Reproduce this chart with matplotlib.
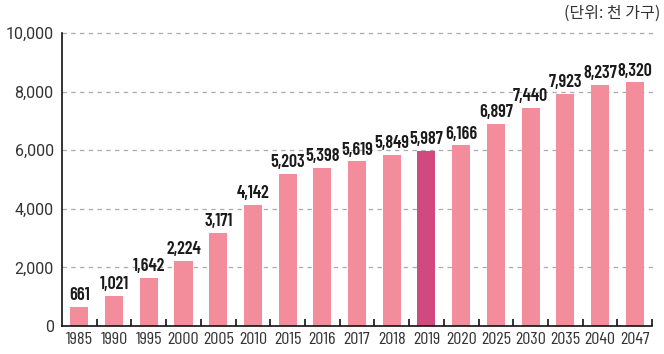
import matplotlib
matplotlib.use("Agg")
import matplotlib.pyplot as plt
import numpy as np

years = ["1985", "1990", "1995", "2000", "2005", "2010", "2015", "2016", "2017",
         "2018", "2019", "2020", "2025", "2030", "2035", "2040", "2047"]
households = [661, 1021, 1642, 2224, 3171, 4142, 5203, 5398, 5619,
              5849, 5987, 6166, 6897, 7440, 7923, 8237, 8320]
highlight_year = "2019"
yticks = [0, 2000, 4000, 6000, 8000, 10000]

plt.rcParams['font.family'] = ['Roboto', 'DejaVu Sans', 'Noto Sans CJK KR']
cond = ["Barlow Condensed", "DejaVu Sans"]

pink = "#f48d9b"
magenta = "#d14a7f"

fig = plt.figure(figsize=(6.64, 3.54), dpi=100)
ax = fig.add_axes([0.0934, 0.0791, 0.8886, 0.8277])

x = np.arange(len(years))
colors = [magenta if y == highlight_year else pink for y in years]
ax.bar(x, households, width=0.52, color=colors, zorder=2)

for xi, v in zip(x, households):
    ax.text(xi, v + 90, f"{v:,}", ha="center", va="bottom", fontsize=13,
            fontweight="semibold", color="#1a1a1a", family=cond, zorder=3)

ax.set_xlim(-0.5, len(years) - 0.5)
ax.set_ylim(0, 10000)
ax.set_yticks(yticks)
ax.set_yticklabels([f"{t:,}" for t in yticks], fontsize=11.5, color="#333333")
ax.tick_params(axis="y", length=0, pad=6)

for t in yticks[1:]:
    ax.plot([-0.5, len(years) - 0.45], [t, t], ls=(0, (3.5, 3.5)), color="#aaaaaa",
            lw=0.9, zorder=1, clip_on=False)

ax.set_xticks(x)
ax.set_xticklabels(years, fontsize=13, color="#333333", family=cond)
ax.tick_params(axis="x", length=0, pad=4)
ax.set_xticks(np.arange(0.5, len(years) - 0.4, 1.0), minor=True)
ax.tick_params(axis="x", which="minor", direction="in", length=5, width=1.2, color="#111111")

for side in ["top", "right"]:
    ax.spines[side].set_visible(False)
ax.spines["left"].set_color("#111111")
ax.spines["bottom"].set_color("#111111")
ax.spines["left"].set_linewidth(1.2)
ax.spines["bottom"].set_linewidth(1.2)

fig.text(0.994, 0.962, "(단위: 천 가구)", ha="right", va="center", fontsize=11.5,
         color="#333333", family=['Noto Sans CJK KR', 'DejaVu Sans'])

fig.savefig("out.png", dpi=100)
